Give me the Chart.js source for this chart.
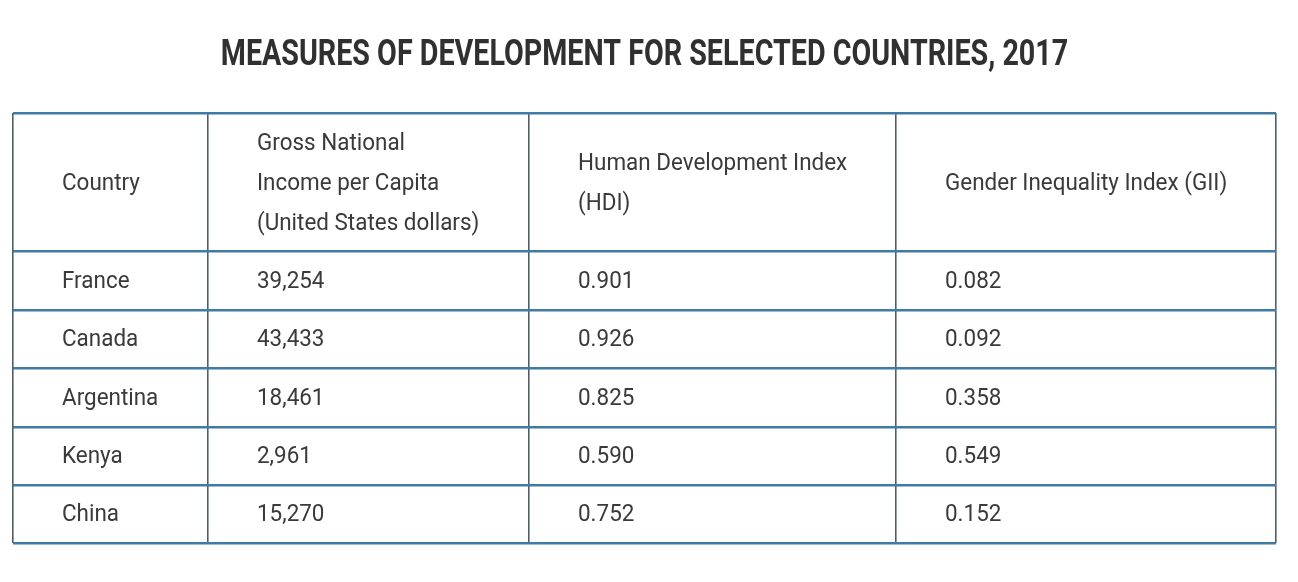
<!DOCTYPE html>
<html>
<head>
<meta charset="utf-8">
<script src="https://cdn.jsdelivr.net/npm/chart.js@4.4.0/dist/chart.umd.min.js"></script>
<style>
  body { margin: 0; background: #fff; }
  canvas { display: block; }
</style>
</head>
<body>
<canvas id="devTable" width="1298" height="582"></canvas>
<script>
// Table data
const chartTitle = 'MEASURES OF DEVELOPMENT FOR SELECTED COUNTRIES, 2017';
const headers = [
    ['Country'],
    ['Gross National', 'Income per Capita', '(United States dollars)'],
    ['Human Development Index', '(HDI)'],
    ['Gender Inequality Index (GII)']
];
const countries = ['France', 'Canada', 'Argentina', 'Kenya', 'China'];
const gniPerCapita = [39254, 43433, 18461, 2961, 15270];
const hdi = [0.901, 0.926, 0.825, 0.590, 0.752];
const gii = [0.082, 0.092, 0.358, 0.549, 0.152];

// Layout of the grid (scale units)
const colEdges = [0, 195, 516, 883, 1263];
const rowEdges = [0, 138, 197, 255, 314, 372, 430];

const textColor = '#3a3a3a';
const bodyFont = '400 24px Roboto';
const condense = 0.935;

// Build the cell rows from the arrays
function bodyRows() {
    return countries.map((name, i) => [
        name,
        gniPerCapita[i].toLocaleString('en-US'),
        hdi[i].toFixed(3),
        gii[i].toFixed(3)
    ]);
}

function drawCondensed(ctx, text, x, y, align, factor) {
    ctx.save();
    ctx.translate(x, y);
    ctx.scale(factor, 1);
    ctx.textAlign = align;
    ctx.fillText(text, 0, 0);
    ctx.restore();
}

// Plugin that writes the title and the cell texts using the scales
const tablePlugin = {
    id: 'tableText',
    afterDraw(chart) {
        const { ctx, scales: { x, y }, chartArea } = chart;
        ctx.save();

        // title
        ctx.font = 'bold 37px Roboto';
        ctx.textBaseline = 'alphabetic';
        ctx.fillStyle = '#303030';
        drawCondensed(ctx, chartTitle, (chartArea.left + chartArea.right) / 2, 65, 'center', 0.775);

        ctx.fillStyle = textColor;
        ctx.textBaseline = 'middle';
        ctx.font = bodyFont;
        const padLeft = 49;
        const lineHeight = 40;

        // header row
        const headMid = y.getPixelForValue((rowEdges[0] + rowEdges[1]) / 2) + 2;
        headers.forEach((lines, c) => {
            const left = x.getPixelForValue(colEdges[c]) + padLeft;
            const start = headMid - (lines.length - 1) * lineHeight / 2;
            lines.forEach((line, k) => {
                drawCondensed(ctx, line, left, start + k * lineHeight, 'left', condense);
            });
        });

        // body rows
        bodyRows().forEach((row, r) => {
            const mid = y.getPixelForValue((rowEdges[r + 1] + rowEdges[r + 2]) / 2) + 1;
            row.forEach((cell, c) => {
                const left = x.getPixelForValue(colEdges[c]) + padLeft;
                drawCondensed(ctx, cell, left, mid, 'left', condense);
            });
        });
        ctx.restore();
    }
};

const ctx = document.getElementById('devTable').getContext('2d');
new Chart(ctx, {
    type: 'scatter',
    data: { datasets: [{ data: [], pointRadius: 0 }] },
    options: {
        responsive: false,
        animation: false,
        devicePixelRatio: 1,
        layout: { padding: { left: 13, right: 22, top: 113, bottom: 39 } },
        plugins: { legend: { display: false }, tooltip: { enabled: false }, title: { display: false } },
        scales: {
            x: {
                type: 'linear',
                min: colEdges[0],
                max: colEdges[colEdges.length - 1],
                afterBuildTicks: scale => { scale.ticks = colEdges.map(v => ({ value: v })); },
                ticks: { display: false },
                border: { display: false },
                grid: { color: '#4d5e6b', lineWidth: 1.6, drawTicks: false }
            },
            y: {
                type: 'linear',
                reverse: true,
                min: rowEdges[0],
                max: rowEdges[rowEdges.length - 1],
                afterBuildTicks: scale => { scale.ticks = rowEdges.map(v => ({ value: v })); },
                ticks: { display: false },
                border: { display: false },
                grid: { color: '#3f7ba4', lineWidth: 2.4, drawTicks: false }
            }
        }
    },
    plugins: [tablePlugin]
});
</script>
</body>
</html>
